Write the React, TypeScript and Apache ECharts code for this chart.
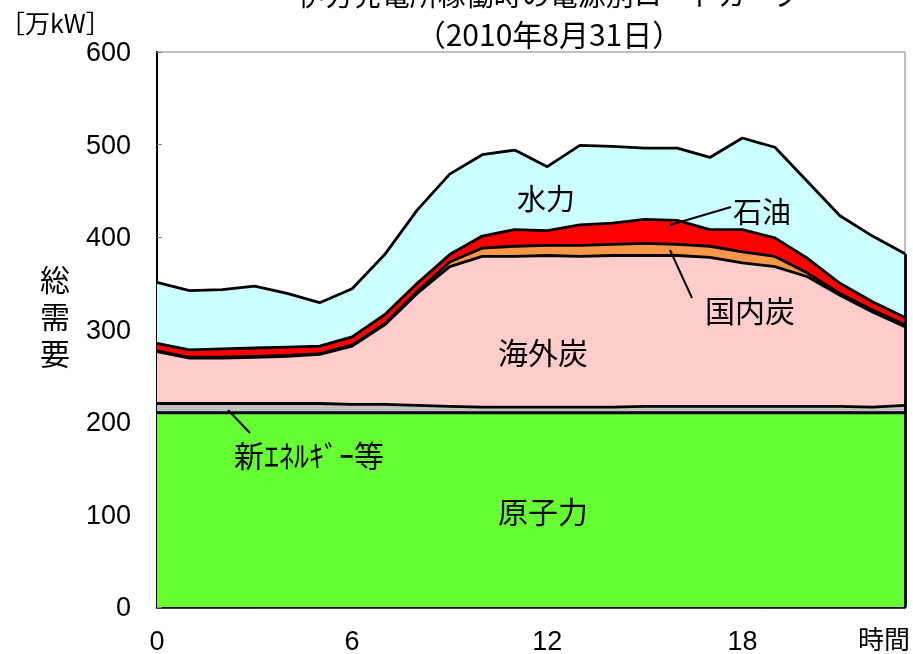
import React, { useEffect, useRef } from "react";
import * as echarts from "echarts";

const hours = [0, 1, 2, 3, 4, 5, 6, 7, 8, 9, 10, 11, 12, 13, 14, 15, 16, 17, 18, 19, 20, 21, 22, 23];
const nuclear = [210, 210, 210, 210, 210, 210, 210, 210, 210, 210, 210, 210, 210, 210, 210, 210, 210, 210, 210, 210, 210, 210, 210, 210];
const newEnergy = [10, 10, 10, 10, 10, 10, 9, 9, 8, 7, 6, 6, 6, 6, 6, 7, 7, 7, 7, 7, 7, 7, 6, 8];
const overseasCoal = [56, 49, 49, 50, 51, 53, 63, 86, 121, 151, 163, 163, 164, 163, 164, 163, 163, 161, 155, 151, 140, 120, 103, 85];
const domesticCoal = [1, 1, 1, 1, 1, 1, 1, 1, 2, 5, 9, 11, 11, 12, 12, 13, 12, 12, 12, 11, 4, 2, 2, 2];
const oil = [8, 8, 9, 9, 9, 8, 9, 10, 9, 8, 13, 18, 16, 22, 23, 26, 26, 18, 24, 20, 16, 11, 9, 8];
const hydro = [66, 64, 64, 67, 58, 47, 52, 65, 79, 87, 88, 86, 69, 86, 83, 77, 78, 78, 99, 98, 83, 73, 71, 69];
const xTickLabels = [0, 6, 12, 18];

const NUM_FONT = "'Liberation Sans', Arial, sans-serif";
const JP_FONT = "'Noto Sans CJK JP', sans-serif";
const TIGHT_JP_FONT = "'DejaVu Sans', 'Noto Sans CJK JP', sans-serif";

export default function App() {
  const ref = useRef<HTMLDivElement>(null);
  useEffect(() => {
    const chart = echarts.init(ref.current!, null, { renderer: "svg" });
    const layers = [
      { name: "原子力", data: nuclear, color: "#66FF33" },
      { name: "新エネルギー等", data: newEnergy, color: "#C0C0C0" },
      { name: "海外炭", data: overseasCoal, color: "#FFCCCC" },
      { name: "国内炭", data: domesticCoal, color: "#F79646" },
      { name: "石油", data: oil, color: "#FF0000" },
      { name: "水力", data: hydro, color: "#CCFFFF" },
    ];
    const last = hours.length - 1;
    const lastTotal = layers.reduce((s, l) => s + l.data[last], 0);
    const areaSeries = layers.map((l) => ({
      type: "line",
      name: l.name,
      stack: "area",
      data: l.data,
      symbol: "none",
      lineStyle: { width: 0 },
      areaStyle: { color: l.color, opacity: 1 },
      z: 2,
      silent: true,
    }));
    const lineSeries = layers.map((l, idx) => ({
      type: "line",
      name: l.name + "_line",
      stack: "line",
      data: l.data,
      symbol: "none",
      lineStyle: { color: "#000", width: 2.8 },
      z: 3,
      silent: true,
      ...(idx === layers.length - 1
        ? {
            markLine: {
              silent: true,
              symbol: "none",
              label: { show: false },
              lineStyle: { color: "#000", width: 2.8, type: "solid" },
              data: [[{ coord: [String(hours[last]), 0] }, { coord: [String(hours[last]), lastTotal] }]],
            },
          }
        : {}),
    }));
    const txt = (x: number, y: number, text: string, size: number, extra: any = {}, family: string = JP_FONT) => ({
      type: "text",
      x,
      y,
      z: 10,
      style: {
        text,
        fill: "#000",
        font: `${size}px ${family}`,
        textAlign: "center",
        textVerticalAlign: "middle",
        ...extra,
      },
    });
    const ln = (x1: number, y1: number, x2: number, y2: number) => ({
      type: "line",
      z: 10,
      shape: { x1, y1, x2, y2 },
      style: { stroke: "#000", lineWidth: 2 },
    });
    chart.setOption({
      animation: false,
      grid: {
        left: 157,
        right: 8,
        top: 52,
        bottom: 47,
        show: true,
        borderColor: "#808080",
        borderWidth: 1,
        backgroundColor: "transparent",
      },
      xAxis: {
        type: "category",
        data: hours.map(String),
        boundaryGap: false,
        splitLine: { show: false },
        axisLine: { show: true, lineStyle: { color: "#000", width: 2.5 } },
        axisTick: {
          show: true,
          inside: true,
          length: 5,
          interval: (i: number) => xTickLabels.indexOf(hours[i]) >= 0,
          lineStyle: { color: "#808080" },
        },
        axisLabel: {
          color: "#000",
          fontSize: 27,
          fontFamily: NUM_FONT,
          margin: 20,
          interval: (i: number) => xTickLabels.indexOf(hours[i]) >= 0,
        },
      },
      yAxis: {
        type: "value",
        min: 0,
        max: 600,
        interval: 100,
        splitLine: { show: false },
        axisLine: { show: true, lineStyle: { color: "#000", width: 2 } },
        axisTick: { show: true, inside: true, length: 5, lineStyle: { color: "#808080" } },
        axisLabel: { color: "#000", fontSize: 27, fontFamily: NUM_FONT, margin: 26 },
      },
      series: [...areaSeries, ...lineSeries],
      graphic: [
        txt(549, -6, "伊方発電所稼働時の電源別ロードカーブ", 28),
        txt(549, 33, "（2010年8月31日）", 30),
        txt(0, 22, "［万kW］", 25, { textAlign: "left" }),
        txt(55, 280, "総", 30, {}, TIGHT_JP_FONT),
        txt(55, 317, "需", 30, {}, TIGHT_JP_FONT),
        txt(55, 354, "要", 30, {}, TIGHT_JP_FONT),
        txt(884, 637, "時間", 26),
        txt(546, 197, "水力", 29),
        txt(762, 210, "石油", 29),
        ln(670, 225, 731, 207),
        txt(750, 309, "国内炭", 30),
        ln(670, 250, 692, 298),
        txt(543, 351, "海外炭", 30),
        txt(309, 454, "新ｴﾈﾙｷﾞｰ等", 30),
        ln(228, 410, 250, 433),
        txt(543, 510, "原子力", 30),
      ],
    });
    return () => chart.dispose();
  }, []);
  return <div ref={ref} style={{ position: "fixed", left: 0, top: 0, width: 913, height: 654 }} />;
}
